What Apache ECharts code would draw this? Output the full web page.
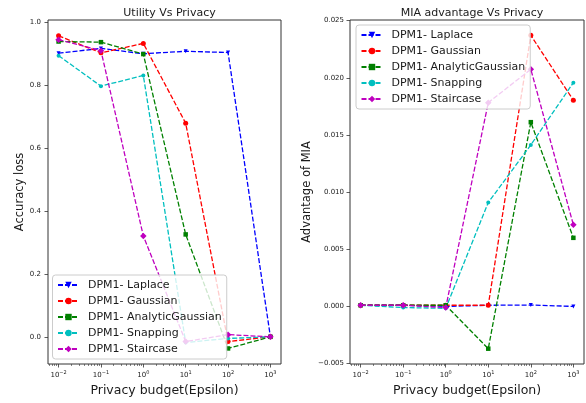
<!DOCTYPE html>
<html><head><meta charset="utf-8">
<script src="https://cdn.jsdelivr.net/npm/echarts@6/dist/echarts.min.js"></script>
<style>html,body{margin:0;padding:0;background:#fff}#c{width:586px;height:403px}</style>
</head><body><div id="c"></div>
<script>
// ---------- data ----------
const epsilon = [0.01, 0.1, 1, 10, 100, 1000];
const seriesNames = ['DPM1- Laplace', 'DPM1- Gaussian', 'DPM1- AnalyticGaussian', 'DPM1- Snapping', 'DPM1- Staircase'];
// Utility (accuracy loss)
const utilLaplace   = [0.903, 0.918, 0.901, 0.909, 0.905, 0.000];
const utilGaussian  = [0.958, 0.904, 0.934, 0.680, -0.015, 0.000];
const utilAnalytic  = [0.940, 0.938, 0.900, 0.326, -0.037, 0.000];
const utilSnapping  = [0.895, 0.798, 0.832, -0.018, -0.005, 0.000];
const utilStaircase = [0.946, 0.911, 0.321, -0.015, 0.007, 0.000];
// MIA advantage
const miaLaplace   = [0.0001, 0.0001, 0.0000, 0.0001, 0.00012, 0.0000];
const miaGaussian  = [0.0001, 0.0001, 0.0001, 0.0001, 0.02372, 0.01804];
const miaAnalytic  = [0.0001, 0.0001, 0.0001, -0.0037, 0.01612, 0.0060];
const miaSnapping  = [0.0001, -0.0001, -0.00017, 0.00909, 0.01413, 0.01958];
const miaStaircase = [0.0001, 0.0001, -0.0001, 0.01783, 0.02075, 0.00714];
// tick labels
const xTickExponents = [-2, -1, 0, 1, 2, 3];
const utilTicks = [0, 0.2, 0.4, 0.6, 0.8, 1.0];
const miaTicks = [-0.005, 0, 0.005, 0.010, 0.015, 0.020, 0.025];
const titles = ['Utility Vs Privacy', 'MIA advantage Vs Privacy'];
const yNames = ['Accuracy loss', 'Advantage of MIA'];
const xName = 'Privacy budget(Epsilon)';

// ---------- style ----------
const colors = ['#0000ff', '#ff0000', '#008000', '#00bfbf', '#bf00bf'];
const symbols = ['triangle', 'circle', 'rect', 'circle', 'diamond'];
const symbolSizes = [4, 5, 4.5, 4, 6.5];
const symbolRotate = [180, 0, 0, 0, 0];
const FONT = 'DejaVu Sans';
const TXT = '#1a1a1a';

const minorTicks = [];
for (let n = -3; n <= 3; n++) for (let k = 2; k <= 9; k++) {
  const v = Math.log10(k * Math.pow(10, n));
  if (v > -2.25 && v < 3.25) minorTicks.push(v);
}
const fmtExp = v => (v < 0 ? '\u2212' + (-v) : '' + v);
const fmtNum = d => v => (v < 0 ? '\u2212' + (-v).toFixed(d) : v.toFixed(d));

function mkSeries(gi, arrs) {
  return arrs.map((arr, i) => ({
    type: 'line', name: seriesNames[i], xAxisIndex: gi * 2, yAxisIndex: gi,
    data: epsilon.map((e, j) => [Math.log10(e), arr[j]]),
    symbol: symbols[i], symbolSize: symbolSizes[i], symbolRotate: symbolRotate[i],
    showAllSymbol: true, animation: false,
    lineStyle: { color: colors[i], width: 1.3, type: [5, 2] },
    itemStyle: { color: colors[i] }
  }));
}
const grids = [
  { left: 48, right: 305, top: 20, bottom: 39 },
  { left: 350, right: 2, top: 20, bottom: 39 }
];
const xAxes = [];
grids.forEach((g, gi) => {
  xAxes.push({
    type: 'value', gridIndex: gi, min: -2.25, max: 3.25, position: 'bottom',
    axisLine: { show: false, onZero: false }, splitLine: { show: false },
    axisTick: { customValues: xTickExponents, length: 3.5, lineStyle: { color: '#333', width: 0.8 } },
    axisLabel: {
      customValues: xTickExponents, margin: 6,
      formatter: v => '{b|10}{s|' + fmtExp(v) + '}',
      rich: {
        b: { fontFamily: FONT, fontSize: 7, color: TXT, verticalAlign: 'bottom', lineHeight: 9 },
        s: { fontFamily: FONT, fontSize: 5, color: TXT, verticalAlign: 'top', lineHeight: 6 }
      }
    },
    name: xName, nameLocation: 'middle', nameGap: 17,
    nameTextStyle: { fontFamily: FONT, fontSize: 12.5, color: TXT, verticalAlign: 'top' }
  });
  xAxes.push({
    type: 'value', gridIndex: gi, min: -2.25, max: 3.25, position: 'bottom',
    axisLine: { show: false, onZero: false }, splitLine: { show: false }, axisLabel: { show: false },
    axisTick: { customValues: minorTicks, length: 2, lineStyle: { color: '#333', width: 0.6 } }
  });
});
const yAxes = [
  {
    type: 'value', gridIndex: 0, min: -0.0865, max: 1.0085, position: 'left',
    axisLine: { show: false, onZero: false }, splitLine: { show: false },
    axisTick: { customValues: utilTicks, length: 3.5, lineStyle: { color: '#333', width: 0.8 } },
    axisLabel: { customValues: utilTicks, formatter: fmtNum(1), fontFamily: FONT, fontSize: 7, color: TXT, margin: 7 },
    name: yNames[0], nameLocation: 'middle', nameGap: 22,
    nameTextStyle: { fontFamily: FONT, fontSize: 11.5, color: TXT }
  },
  {
    type: 'value', gridIndex: 1, min: -0.00504, max: 0.02506, position: 'left',
    axisLine: { show: false, onZero: false }, splitLine: { show: false },
    axisTick: { customValues: miaTicks, length: 3.5, lineStyle: { color: '#333', width: 0.8 } },
    axisLabel: { customValues: miaTicks, formatter: fmtNum(3), fontFamily: FONT, fontSize: 7, color: TXT, margin: 6 },
    name: yNames[1], nameLocation: 'middle', nameGap: 37,
    nameTextStyle: { fontFamily: FONT, fontSize: 11.5, color: TXT }
  }
];
function mkLegend(left, top) {
  return {
    orient: 'vertical', left: left, top: top, data: seriesNames,
    itemWidth: 21, itemHeight: 8, itemGap: 4,
    padding: [4, 5, 4, 4.5],
    backgroundColor: 'rgba(255,255,255,0.8)', borderColor: '#cccccc', borderWidth: 1, borderRadius: 3,
    textStyle: { fontFamily: FONT, fontSize: 11, color: TXT, padding: [0, 0, 0, 4], lineHeight: 12 },
    selectedMode: false
  };
}
const chart = echarts.init(document.getElementById('c'), null, { renderer: 'canvas' });
chart.setOption({
  animation: false,
  backgroundColor: '#fff',
  title: [
    { text: titles[0], left: 164.5, textAlign: 'center', top: 3, textStyle: { fontFamily: FONT, fontSize: 11, fontWeight: 'normal', color: TXT } },
    { text: titles[1], left: 467, textAlign: 'center', top: 3, textStyle: { fontFamily: FONT, fontSize: 11, fontWeight: 'normal', color: TXT } }
  ],
  grid: grids.map(g => Object.assign({ show: true, borderColor: '#333', borderWidth: 1, backgroundColor: 'transparent' }, g)),
  xAxis: xAxes,
  yAxis: yAxes,
  legend: [mkLegend(52.5, 275), mkLegend(356, 25)],
  series: mkSeries(0, [utilLaplace, utilGaussian, utilAnalytic, utilSnapping, utilStaircase])
    .concat(mkSeries(1, [miaLaplace, miaGaussian, miaAnalytic, miaSnapping, miaStaircase]))
});
</script></body></html>
